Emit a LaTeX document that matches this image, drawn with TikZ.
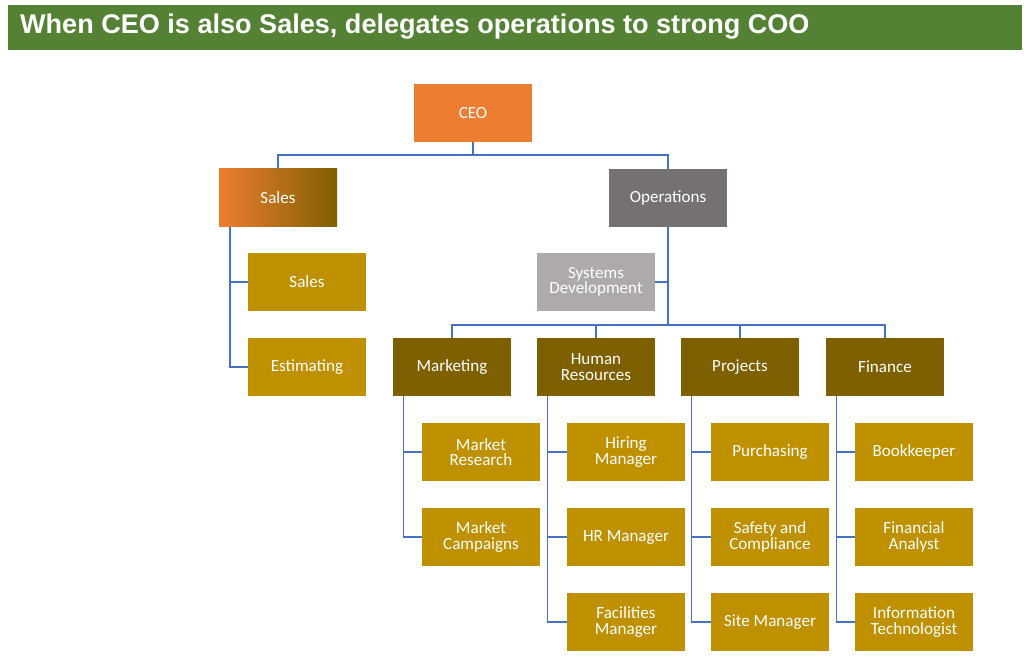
\documentclass[tikz,border=0pt]{standalone}
\usepackage{fontspec}
\setmainfont{Carlito}
\newfontfamily\titlefont{Liberation Sans}
\definecolor{titlegreen}{HTML}{548235}
\definecolor{ceoorange}{HTML}{ED7D31}
\definecolor{darkgold}{HTML}{7F6000}
\definecolor{gold}{HTML}{BF9000}
\definecolor{opsgrey}{HTML}{767171}
\definecolor{sysgrey}{HTML}{AEAAAA}
\definecolor{linkblue}{HTML}{4472C4}
\tikzset{
  box/.style={minimum width=118*0.85pt, minimum height=58*0.85pt, inner sep=1pt,
    text=white, align=center, font=\fontsize{14.5}{15}\selectfont},
  head/.style={box, fill=darkgold},
  leaf/.style={box, fill=gold},
  link/.style={draw=linkblue, line width=0.9pt}
}
\begin{document}
\begin{tikzpicture}[x=0.85pt,y=-0.85pt]
  \useasboundingbox[fill=white] (0,0) rectangle (1024,658);
  \fill[titlegreen] (8,5) rectangle (1022,50);
  \node[anchor=west, text=white, font=\titlefont\bfseries\fontsize{23}{24}\selectfont] (title) at (16,27) {When CEO is also Sales, delegates operations to strong COO};

  \node[box, fill=ceoorange] (ceo) at (473,113) {CEO};
  \node[box, left color=ceoorange, right color=darkgold] (sales) at (278,198) {Sales};
  \node[box, fill=opsgrey] (ops) at (668,198) {Operations};
  \node[leaf] (salesa) at (307,282) {Sales};
  \node[leaf] (estim) at (307,367) {Estimating};
  \node[box, fill=sysgrey] (sysdev) at (596,282) {Systems\\[-2pt]Development};

  \node[head] (mkt) at (452,367) {Marketing};
  \node[head] (hr) at (596,367) {Human\\[-2pt]Resources};
  \node[head] (proj) at (740,367) {Projects};
  \node[head] (fin) at (885,367) {Finance};

  \node[leaf] (mres) at (481,452) {Market\\[-2pt]Research};
  \node[leaf] (mcamp) at (481,537) {Market\\[-2pt]Campaigns};
  \node[leaf] (hire) at (626,452) {Hiring\\[-2pt]Manager};
  \node[leaf] (hrman) at (626,537) {HR Manager};
  \node[leaf] (facil) at (626,622) {Facilities\\[-2pt]Manager};
  \node[leaf] (purch) at (770,452) {Purchasing};
  \node[leaf] (safety) at (770,537) {Safety and\\[-2pt]Compliance};
  \node[leaf] (site) at (770,622) {Site Manager};
  \node[leaf] (book) at (914,452) {Bookkeeper};
  \node[leaf] (analyst) at (914,537) {Financial\\[-2pt]Analyst};
  \node[leaf] (infotech) at (914,622) {Information\\[-2pt]Technologist};

  % top level
  \coordinate (ceojoin) at (473,155);
  \draw[link] (ceo.south) -- (ceojoin) -| (sales.north);
  \draw[link] (ceojoin) -| (ops.north);
  % sales branch
  \draw[link] (sales.south -| 230,0) |- (estim.west);
  \draw[link] (230,282) -- (salesa.west);
  % operations branch
  \coordinate (opsjoin) at (668,325);
  \draw[link] (ops.south) -- (opsjoin);
  \draw[link] (668,282) -- (sysdev.east);
  \draw[link] (opsjoin) -| (mkt.north);
  \draw[link] (opsjoin) -| (hr.north);
  \draw[link] (opsjoin) -| (proj.north);
  \draw[link] (opsjoin) -| (fin.north);
  % department children
  \foreach \dept/\first/\last in {mkt/mres/mcamp, hr/hire/facil, proj/purch/site, fin/book/infotech}{
    \draw[link] ([xshift=11*0.85pt]\dept.south west) |- (\last.west);
    \draw[link] ([xshift=11*0.85pt]\dept.south west |- \first.west) -- (\first.west);
  }
  \draw[link] ([xshift=11*0.85pt]hr.south west |- hrman.west) -- (hrman.west);
  \draw[link] ([xshift=11*0.85pt]proj.south west |- safety.west) -- (safety.west);
  \draw[link] ([xshift=11*0.85pt]fin.south west |- analyst.west) -- (analyst.west);
\end{tikzpicture}
\end{document}
